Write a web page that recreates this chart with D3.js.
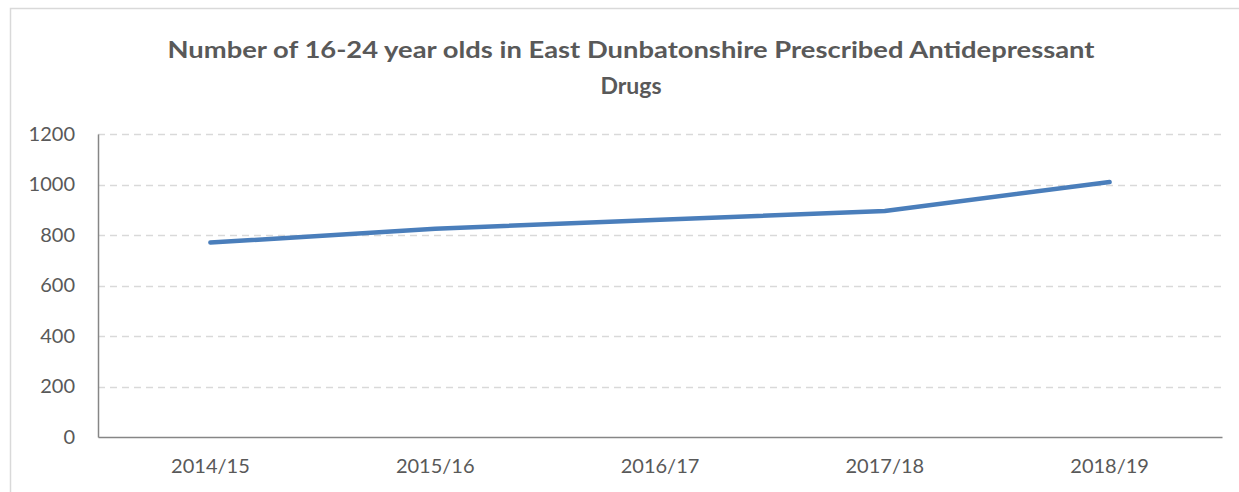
<!DOCTYPE html>
<html><head><meta charset="utf-8">
<script src="https://cdn.jsdelivr.net/npm/d3@7"></script>
<style>html,body{margin:0;padding:0;background:#fff;}svg{display:block;}</style>
</head><body>
<svg id="c" width="1239" height="492"></svg>
<script>
const categories = ["2014/15","2015/16","2016/17","2017/18","2018/19"];
const values = [770, 825, 860, 895, 1010];
const yTicks = [0,200,400,600,800,1000,1200];
const titleLines = ["Number of 16-24 year olds in East Dunbatonshire Prescribed Antidepressant","Drugs"];

const svg = d3.select("#c");
const m = {left: 98, right: 1222, top: 134, bottom: 437};
const font = "Lato, 'Open Sans', sans-serif";

// chart border
svg.append("rect").attr("x",10.5).attr("y",8.5).attr("width",1260).attr("height",520)
  .attr("fill","none").attr("stroke","#d9d9d9").attr("stroke-width",1.5);

const x = d3.scaleBand().domain(categories).range([m.left, m.right]);
const y = d3.scaleLinear().domain([0,1200]).range([m.bottom, m.top]);

// gridlines
svg.append("g").selectAll("line").data(yTicks.filter(d=>d>0)).join("line")
  .attr("x1", m.left).attr("x2", m.right)
  .attr("y1", d=>Math.round(y(d))+0.5).attr("y2", d=>Math.round(y(d))+0.5)
  .attr("stroke","#d9d9d9").attr("stroke-width",1.5).attr("stroke-dasharray","7,5");

// y axis
const ya = svg.append("g").attr("transform",`translate(${m.left},0)`)
  .call(d3.axisLeft(y).tickValues(yTicks).tickSize(0).tickPadding(23).tickFormat(d3.format("d")));
ya.select(".domain").attr("stroke","#868686").attr("stroke-width",1.5);
ya.selectAll("text").attr("font-family",font).attr("font-size",20).attr("fill","#595959");

// x axis
const xa = svg.append("g").attr("transform",`translate(0,${m.bottom})`)
  .call(d3.axisBottom(x).tickSize(0).tickPadding(22));
xa.select(".domain").attr("stroke","#868686").attr("stroke-width",1.5);
xa.selectAll("text").attr("font-family",font).attr("font-size",20).attr("fill","#595959");

// line
const line = d3.line().x((d,i)=>x(categories[i])+x.bandwidth()/2).y(d=>y(d));
svg.append("path").datum(values).attr("d",line).attr("fill","none")
  .attr("stroke","#4a7ebb").attr("stroke-width",4.5).attr("stroke-linecap","round").attr("stroke-linejoin","round");

// title
const tt = svg.append("g");
tt.append("text").attr("x",631).attr("y",58).attr("text-anchor","middle")
  .attr("font-family",font).attr("font-weight","bold").attr("font-size",22).attr("fill","#595959")
  .attr("textLength",927).attr("lengthAdjust","spacingAndGlyphs").text(titleLines[0]);
tt.append("text").attr("x",631).attr("y",94).attr("text-anchor","middle")
  .attr("font-family",font).attr("font-weight","bold").attr("font-size",23).attr("fill","#595959")
  .text(titleLines[1]);
</script>
</body></html>
